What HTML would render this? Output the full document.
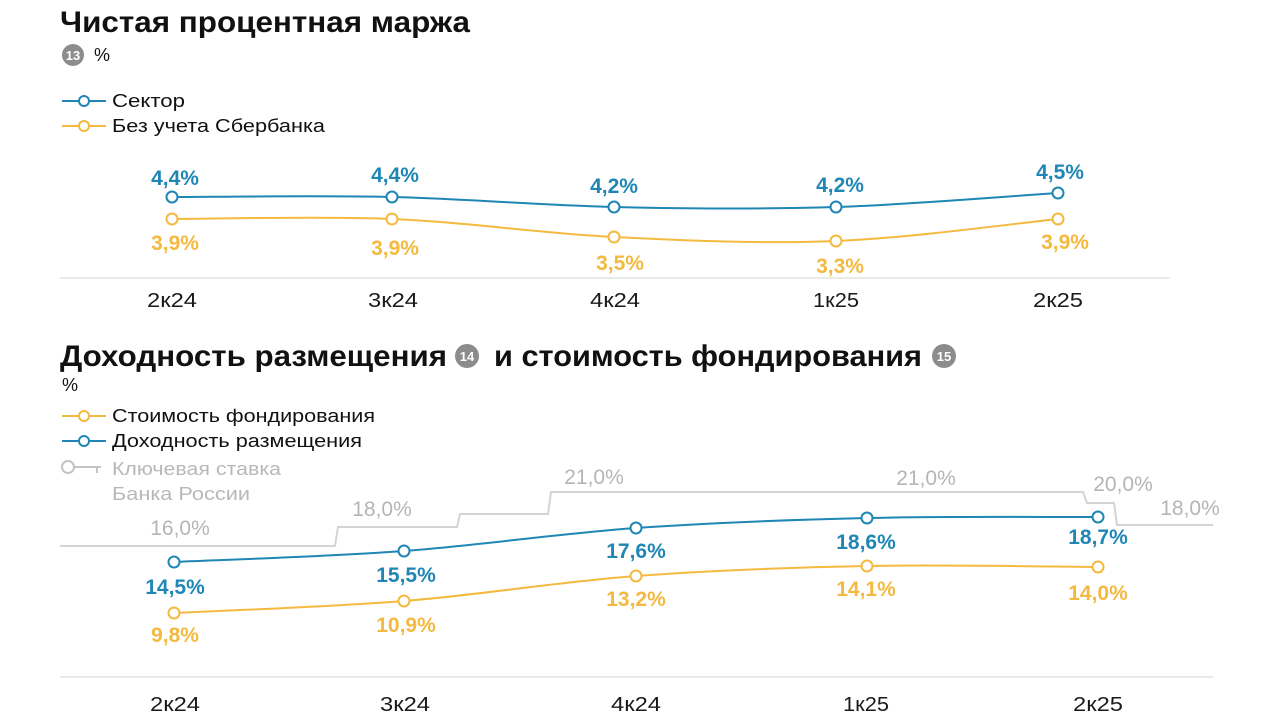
<!DOCTYPE html>
<html>
<head>
<meta charset="utf-8">
<style>
html,body{margin:0;padding:0;background:#fff;}
body{width:1280px;height:725px;overflow:hidden;}
svg{display:block;}
text{font-family:"Liberation Sans","DejaVu Sans",sans-serif;}
</style>
</head>
<body>
<svg width="1280" height="725" viewBox="0 0 1280 725" xmlns="http://www.w3.org/2000/svg">
  <!-- ===== Chart 1 ===== -->
  <text x="60" y="32" font-size="30" font-weight="bold" fill="#111" textLength="410" lengthAdjust="spacingAndGlyphs">Чистая процентная маржа</text>
  <circle cx="73" cy="55" r="11" fill="#8c8c8c"/>
  <text x="73" y="60" font-size="13" font-weight="bold" fill="#fff" text-anchor="middle">13</text>
  <text x="94" y="61" font-size="18" fill="#111">%</text>

  <!-- legend -->
  <line x1="62" y1="101" x2="106" y2="101" stroke="#1f86b5" stroke-width="2"/>
  <circle cx="84" cy="101" r="5" fill="#fff" stroke="#1f86b5" stroke-width="2"/>
  <text x="112" y="107" font-size="18" fill="#111" textLength="73" lengthAdjust="spacingAndGlyphs">Сектор</text>
  <line x1="62" y1="126" x2="106" y2="126" stroke="#f4b93f" stroke-width="2"/>
  <circle cx="84" cy="126" r="5" fill="#fff" stroke="#f4b93f" stroke-width="2"/>
  <text x="112" y="132" font-size="18" fill="#111" textLength="213" lengthAdjust="spacingAndGlyphs">Без учета Сбербанка</text>

  <!-- baseline -->
  <line x1="60" y1="278" x2="1170" y2="278" stroke="#e4e4e4" stroke-width="1.5"/>

  <!-- series -->
  <path d="M172,197 C208.7,197 318.3,195.3 392,197 C465.7,198.7 540,205.3 614,207 C688,208.7 762,209.3 836,207 C910,204.7 1021,195.3 1058,193" fill="none" stroke="#1f86b5" stroke-width="2"/>
  <path d="M172,219 C208.7,219 318.3,216 392,219 C465.7,222 540,233.3 614,237 C688,240.7 762,244 836,241 C910,238 1021,222.7 1058,219" fill="none" stroke="#f4b93f" stroke-width="2"/>
  <g fill="#fff" stroke="#1f86b5" stroke-width="2">
    <circle cx="172" cy="197" r="5.5"/><circle cx="392" cy="197" r="5.5"/><circle cx="614" cy="207" r="5.5"/><circle cx="836" cy="207" r="5.5"/><circle cx="1058" cy="193" r="5.5"/>
  </g>
  <g fill="#fff" stroke="#f4b93f" stroke-width="2">
    <circle cx="172" cy="219" r="5.5"/><circle cx="392" cy="219" r="5.5"/><circle cx="614" cy="237" r="5.5"/><circle cx="836" cy="241" r="5.5"/><circle cx="1058" cy="219" r="5.5"/>
  </g>
  <g font-size="21" font-weight="bold" fill="#1f86b5" text-anchor="middle">
    <text x="175" y="185">4,4%</text>
    <text x="395" y="182">4,4%</text>
    <text x="614" y="193">4,2%</text>
    <text x="840" y="192">4,2%</text>
    <text x="1060" y="179">4,5%</text>
  </g>
  <g font-size="21" font-weight="bold" fill="#f4b93f" text-anchor="middle">
    <text x="175" y="250">3,9%</text>
    <text x="395" y="255">3,9%</text>
    <text x="620" y="270">3,5%</text>
    <text x="840" y="273">3,3%</text>
    <text x="1065" y="249">3,9%</text>
  </g>
  <g font-size="20" fill="#1a1a1a" text-anchor="middle">
    <text x="172" y="307" textLength="50" lengthAdjust="spacingAndGlyphs">2к24</text>
    <text x="393" y="307" textLength="50" lengthAdjust="spacingAndGlyphs">3к24</text>
    <text x="615" y="307" textLength="50" lengthAdjust="spacingAndGlyphs">4к24</text>
    <text x="836" y="307" textLength="46" lengthAdjust="spacingAndGlyphs">1к25</text>
    <text x="1058" y="307" textLength="50" lengthAdjust="spacingAndGlyphs">2к25</text>
  </g>

  <!-- ===== Chart 2 ===== -->
  <text x="60" y="366" font-size="30" font-weight="bold" fill="#111" textLength="387" lengthAdjust="spacingAndGlyphs">Доходность размещения</text>
  <circle cx="467" cy="356" r="12" fill="#8c8c8c"/>
  <text x="467" y="361" font-size="13" font-weight="bold" fill="#fff" text-anchor="middle">14</text>
  <text x="494" y="366" font-size="30" font-weight="bold" fill="#111" textLength="428" lengthAdjust="spacingAndGlyphs">и стоимость фондирования</text>
  <circle cx="944" cy="356" r="12" fill="#8c8c8c"/>
  <text x="944" y="361" font-size="13" font-weight="bold" fill="#fff" text-anchor="middle">15</text>
  <text x="62" y="391" font-size="18" fill="#111">%</text>

  <!-- legend -->
  <line x1="62" y1="416" x2="106" y2="416" stroke="#f4b93f" stroke-width="2"/>
  <circle cx="84" cy="416" r="5" fill="#fff" stroke="#f4b93f" stroke-width="2"/>
  <text x="112" y="422" font-size="18" fill="#111" textLength="263" lengthAdjust="spacingAndGlyphs">Стоимость фондирования</text>
  <line x1="62" y1="441" x2="106" y2="441" stroke="#1f86b5" stroke-width="2"/>
  <circle cx="84" cy="441" r="5" fill="#fff" stroke="#1f86b5" stroke-width="2"/>
  <text x="112" y="447" font-size="18" fill="#111" textLength="250" lengthAdjust="spacingAndGlyphs">Доходность размещения</text>
  <circle cx="68" cy="467" r="6" fill="#fff" stroke="#c4c4c4" stroke-width="2"/>
  <path d="M74,467 H101 M97,467 V473" fill="none" stroke="#c4c4c4" stroke-width="2"/>
  <text x="112" y="475" font-size="18" fill="#b8b8b8" textLength="169" lengthAdjust="spacingAndGlyphs">Ключевая ставка</text>
  <text x="112" y="500" font-size="18" fill="#b8b8b8" textLength="138" lengthAdjust="spacingAndGlyphs">Банка России</text>

  <!-- key rate step line -->
  <path d="M60,546 H335 L338,527 H457 L460,514 H548 L551,492 H1083 L1087,503 H1114 L1117,525 H1213" fill="none" stroke="#d4d4d4" stroke-width="2"/>
  <g font-size="21" fill="#b5b5b5" text-anchor="middle">
    <text x="180" y="535">16,0%</text>
    <text x="382" y="516">18,0%</text>
    <text x="594" y="484">21,0%</text>
    <text x="926" y="485">21,0%</text>
    <text x="1123" y="491">20,0%</text>
    <text x="1190" y="515">18,0%</text>
  </g>

  <!-- baseline -->
  <line x1="60" y1="677" x2="1213" y2="677" stroke="#e4e4e4" stroke-width="1.5"/>

  <!-- series -->
  <path d="M174,562 C212.3,560.2 327,556.7 404,551 C481,545.3 558.8,533.5 636,528 C713.2,522.5 790,519.8 867,518 C944,516.2 1059.5,517.2 1098,517" fill="none" stroke="#1f86b5" stroke-width="2"/>
  <path d="M174,613 C212.3,611 327,607.2 404,601 C481,594.8 558.8,581.8 636,576 C713.2,570.2 790,567.5 867,566 C944,564.5 1059.5,566.8 1098,567" fill="none" stroke="#f4b93f" stroke-width="2"/>
  <g fill="#fff" stroke="#1f86b5" stroke-width="2">
    <circle cx="174" cy="562" r="5.5"/><circle cx="404" cy="551" r="5.5"/><circle cx="636" cy="528" r="5.5"/><circle cx="867" cy="518" r="5.5"/><circle cx="1098" cy="517" r="5.5"/>
  </g>
  <g fill="#fff" stroke="#f4b93f" stroke-width="2">
    <circle cx="174" cy="613" r="5.5"/><circle cx="404" cy="601" r="5.5"/><circle cx="636" cy="576" r="5.5"/><circle cx="867" cy="566" r="5.5"/><circle cx="1098" cy="567" r="5.5"/>
  </g>
  <g font-size="21" font-weight="bold" fill="#1f86b5" text-anchor="middle">
    <text x="175" y="594">14,5%</text>
    <text x="406" y="582">15,5%</text>
    <text x="636" y="558">17,6%</text>
    <text x="866" y="549">18,6%</text>
    <text x="1098" y="544">18,7%</text>
  </g>
  <g font-size="21" font-weight="bold" fill="#f4b93f" text-anchor="middle">
    <text x="175" y="642">9,8%</text>
    <text x="406" y="632">10,9%</text>
    <text x="636" y="606">13,2%</text>
    <text x="866" y="596">14,1%</text>
    <text x="1098" y="600">14,0%</text>
  </g>
  <g font-size="20" fill="#1a1a1a" text-anchor="middle">
    <text x="175" y="711" textLength="50" lengthAdjust="spacingAndGlyphs">2к24</text>
    <text x="405" y="711" textLength="50" lengthAdjust="spacingAndGlyphs">3к24</text>
    <text x="636" y="711" textLength="50" lengthAdjust="spacingAndGlyphs">4к24</text>
    <text x="866" y="711" textLength="46" lengthAdjust="spacingAndGlyphs">1к25</text>
    <text x="1098" y="711" textLength="50" lengthAdjust="spacingAndGlyphs">2к25</text>
  </g>
</svg>
</body>
</html>
